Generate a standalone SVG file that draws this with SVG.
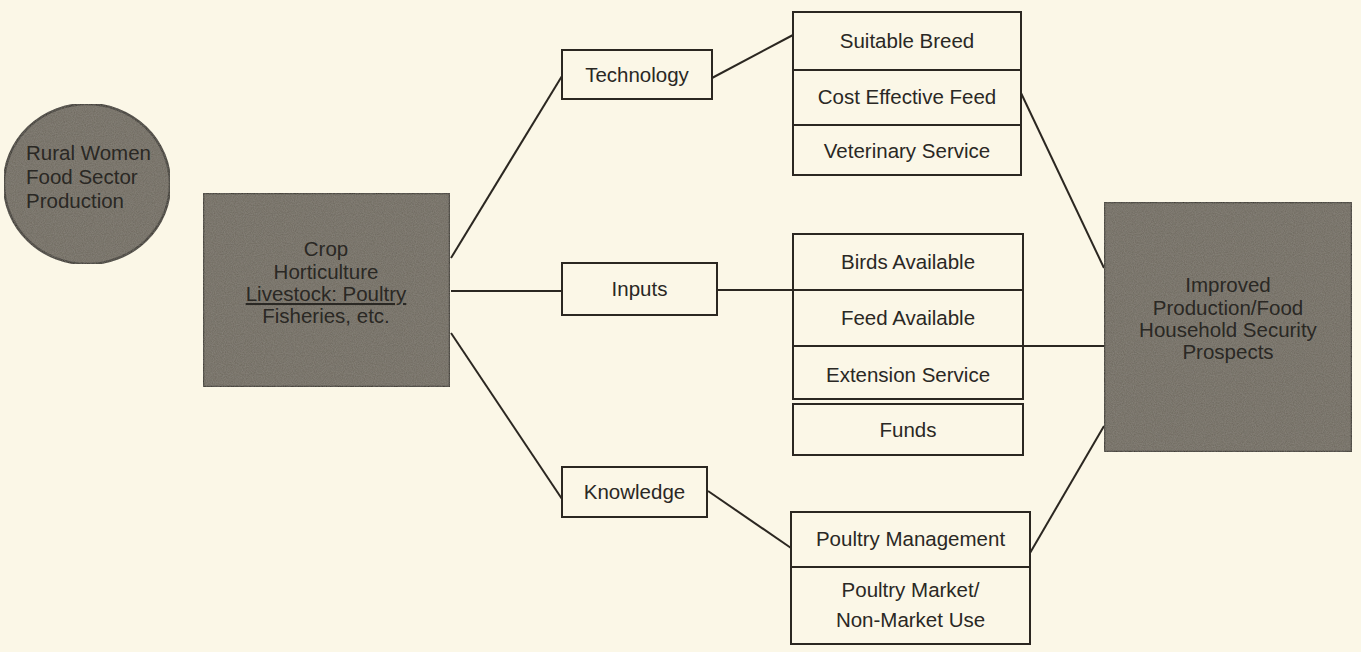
<svg xmlns="http://www.w3.org/2000/svg" width="1361" height="652" viewBox="0 0 1361 652">
  <style>
    .bg { fill: #fbf7e7; }
    .box { fill: #fbf7e7; stroke: #2b2721; stroke-width: 2; }
    .dark { fill: #6d685d; stroke: #2e2a24; stroke-width: 2.5; }
    .div { stroke: #2b2721; stroke-width: 2; fill: none; }
    .link { stroke: #2b2721; stroke-width: 2; fill: none; }
    text { font-family: "Liberation Sans", Arial, sans-serif; font-size: 20.5px; fill: #2a2824; }
    .c { text-anchor: middle; }
  </style>
  <defs>
    <filter id="grain" x="0" y="0" width="100%" height="100%">
      <feTurbulence type="fractalNoise" baseFrequency="0.9" numOctaves="2" seed="3" result="n"/>
      <feColorMatrix in="n" type="matrix" values="0 0 0 0 0.42  0 0 0 0 0.40  0 0 0 0 0.36  0 0 0 0.35 0" result="g"/>
      <feComposite in="g" in2="SourceGraphic" operator="in" result="gc"/>
      <feMerge><feMergeNode in="SourceGraphic"/><feMergeNode in="gc"/></feMerge>
    </filter>
  </defs>

  <rect class="bg" x="0" y="0" width="1361" height="652"/>

  <!-- connectors -->
  <g id="connectors">
    <line class="link" x1="451" y1="258" x2="562" y2="76"/>
    <line class="link" x1="451" y1="291" x2="562" y2="291"/>
    <line class="link" x1="451" y1="333" x2="562" y2="499"/>
    <line class="link" x1="712" y1="78" x2="793" y2="35"/>
    <line class="link" x1="717" y1="290" x2="793" y2="290"/>
    <line class="link" x1="1021" y1="93" x2="1104" y2="268"/>
    <line class="link" x1="1023" y1="346" x2="1104" y2="346"/>
    <line class="link" x1="708" y1="491" x2="791" y2="548"/>
    <line class="link" x1="1030" y1="553" x2="1104" y2="426"/>
  </g>

  <!-- source -->
  <g id="rural-women">
    <ellipse class="dark" cx="87" cy="184" rx="83" ry="80" filter="url(#grain)"/>
    <text x="26" y="160" font-size="21">Rural Women</text>
    <text x="26" y="184" font-size="21">Food Sector</text>
    <text x="26" y="208" font-size="21">Production</text>
  </g>

  <g id="sectors">
    <rect class="dark" x="203" y="193" width="247" height="194" filter="url(#grain)"/>
    <text class="c" x="326" y="256">Crop</text>
    <text class="c" x="326" y="279">Horticulture</text>
    <text class="c" x="326" y="301" text-decoration="underline">Livestock: Poultry</text>
    <text class="c" x="326" y="323">Fisheries, etc.</text>
  </g>

  <!-- pathways -->
  <g id="technology">
    <rect class="box" x="562" y="50" width="150" height="49"/>
    <text class="c" x="637" y="82">Technology</text>
  </g>
  <g id="inputs">
    <rect class="box" x="562" y="263" width="155" height="52"/>
    <text class="c" x="639.5" y="296">Inputs</text>
  </g>
  <g id="knowledge">
    <rect class="box" x="562" y="467" width="145" height="50"/>
    <text class="c" x="634.5" y="499">Knowledge</text>
  </g>

  <!-- technology components -->
  <g id="technology-items">
    <rect class="box" x="793" y="12" width="228" height="163"/>
    <line class="div" x1="793" y1="70" x2="1021" y2="70"/>
    <line class="div" x1="793" y1="125" x2="1021" y2="125"/>
    <text class="c" x="907" y="48">Suitable Breed</text>
    <text class="c" x="907" y="104">Cost Effective Feed</text>
    <text class="c" x="907" y="158">Veterinary Service</text>
  </g>

  <!-- input components -->
  <g id="input-items">
    <rect class="box" x="793" y="234" width="230" height="165"/>
    <line class="div" x1="793" y1="290" x2="1023" y2="290"/>
    <line class="div" x1="793" y1="346" x2="1023" y2="346"/>
    <text class="c" x="908" y="269">Birds Available</text>
    <text class="c" x="908" y="325">Feed Available</text>
    <text class="c" x="908" y="382">Extension Service</text>
  </g>
  <g id="funds">
    <rect class="box" x="793" y="404" width="230" height="51"/>
    <text class="c" x="908" y="437">Funds</text>
  </g>

  <!-- knowledge components -->
  <g id="knowledge-items">
    <rect class="box" x="791" y="512" width="239" height="132"/>
    <line class="div" x1="791" y1="567" x2="1030" y2="567"/>
    <text class="c" x="910.5" y="546">Poultry Management</text>
    <text class="c" x="910.5" y="597">Poultry Market/</text>
    <text class="c" x="910.5" y="627">Non-Market Use</text>
  </g>

  <!-- outcome -->
  <g id="outcome">
    <rect class="dark" x="1104" y="202" width="248" height="250" filter="url(#grain)"/>
    <text class="c" x="1228" y="292">Improved</text>
    <text class="c" x="1228" y="315">Production/Food</text>
    <text class="c" x="1228" y="337">Household Security</text>
    <text class="c" x="1228" y="359">Prospects</text>
  </g>
</svg>
